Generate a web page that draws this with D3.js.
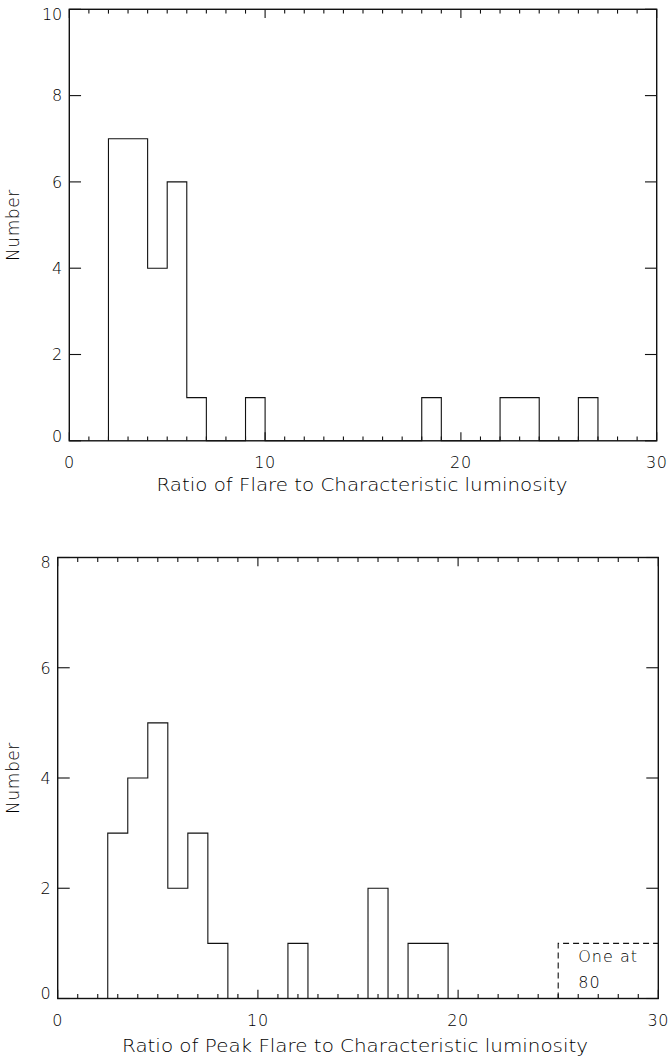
<!DOCTYPE html>
<html>
<head>
<meta charset="utf-8">
<script src="https://cdn.jsdelivr.net/npm/d3@7"></script>
<style>
  html, body { margin: 0; padding: 0; background: #fff; }
  svg { display: block; }
  text { font-family: "DejaVu Sans", sans-serif; font-weight: 200; fill: #000; }
</style>
</head>
<body>
<script>
// ---------- data ----------
const binWidth = 1;
// top panel: ratio of flare to characteristic luminosity (non-empty bins)
const topBinStarts = [2, 3, 4, 5, 6, 9, 18, 22, 23, 26];
const topCounts    = [7, 7, 4, 6, 1, 1, 1, 1, 1, 1];
// bottom panel: ratio of peak flare to characteristic luminosity (non-empty bins)
const botBinStarts = [2.5, 3.5, 4.5, 5.5, 6.5, 7.5, 11.5, 15.5, 17.5, 18.5];
const botCounts    = [3, 4, 5, 2, 3, 1, 1, 2, 1, 1];
// off-scale outlier marker (bottom panel)
const outlierRange = [25, 30];
const outlierCount = 1;
const outlierText  = ["One at", "80"];

const xDomain = [0, 30];
const xMajorTicks = [0, 10, 20, 30];
const xMinorTicks = d3.range(0, 31, 1);
const topYTicks = [0, 2, 4, 6, 8, 10];
const botYTicks = [0, 2, 4, 6, 8];
const topXTitle = "Ratio of Flare to Characteristic luminosity";
const botXTitle = "Ratio of Peak Flare to Characteristic luminosity";
const yTitle = "Number";

// ---------- drawing ----------
const W = 668, H = 1057;
const svg = d3.select("body").append("svg").attr("width", W).attr("height", H);

function panel(cfg) {
  const x = d3.scaleLinear().domain(xDomain).range([cfg.left, cfg.right]);
  const y = d3.scaleLinear().domain([0, cfg.yMax]).range([cfg.bottom, cfg.top]);
  const g = svg.append("g");
  const ph = cfg.bottom - cfg.top, pw = cfg.right - cfg.left;
  const xMajLen = 0.02 * ph, xMinLen = 0.01 * ph, yMajLen = 0.02 * pw;

  // histogram outline (step style): walk the bins in order, dropping to 0 across gaps
  const pts = [];
  const first = cfg.starts[0];
  pts.push([x(first), y(0)]);
  cfg.starts.forEach((s, i) => {
    const c = cfg.counts[i];
    if (i > 0) {
      const prevEnd = cfg.starts[i - 1] + binWidth;
      if (s - prevEnd > 1e-9) { pts.push([x(prevEnd), y(0)]); pts.push([x(s), y(0)]); }
    }
    pts.push([x(s), y(c)]);
    pts.push([x(s + binWidth), y(c)]);
  });
  pts.push([x(cfg.starts[cfg.starts.length - 1] + binWidth), y(0)]);
  g.append("path").attr("d", d3.line()(pts))
    .attr("fill", "none").attr("stroke", "#111").attr("stroke-width", 1.1);

  // x ticks (bottom and top, pointing inward)
  const xt = g.append("g").attr("stroke", "#111").attr("stroke-width", 1.1);
  xMinorTicks.forEach(v => {
    const len = xMajorTicks.includes(v) ? xMajLen : xMinLen;
    xt.append("line").attr("x1", x(v)).attr("x2", x(v)).attr("y1", y(0)).attr("y2", y(0) - len);
    xt.append("line").attr("x1", x(v)).attr("x2", x(v)).attr("y1", cfg.top).attr("y2", cfg.top + len);
  });
  // y ticks (left and right, pointing inward)
  cfg.yTicks.forEach(v => {
    xt.append("line").attr("x1", cfg.left).attr("x2", cfg.left + yMajLen).attr("y1", y(v)).attr("y2", y(v));
    xt.append("line").attr("x1", cfg.right).attr("x2", cfg.right - yMajLen).attr("y1", y(v)).attr("y2", y(v));
  });
  // frame
  g.append("rect").attr("x", cfg.left).attr("y", cfg.top).attr("width", pw).attr("height", ph)
    .attr("fill", "none").attr("stroke", "#111").attr("stroke-width", 1.4);

  // tick labels
  g.selectAll("text.xl").data(xMajorTicks).enter().append("text")
    .attr("class", "xl").attr("x", d => x(d)).attr("y", cfg.bottom + 27.5)
    .attr("text-anchor", "middle").attr("font-size", 16).attr("letter-spacing", 0.6).text(d => d);
  g.selectAll("text.yl").data(cfg.yTicks).enter().append("text")
    .attr("class", "yl").attr("x", cfg.left - 7)
    .attr("y", d => Math.max(cfg.top + 5, Math.min(cfg.bottom - 5, y(d))))
    .attr("dy", "0.36em").attr("text-anchor", "end").attr("font-size", 16).text(d => d);

  // titles
  g.append("text").attr("x", cfg.titleX).attr("y", cfg.bottom + cfg.titleDy)
    .attr("text-anchor", "middle").attr("font-size", 17)
    .attr("textLength", cfg.titleLen).attr("lengthAdjust", "spacingAndGlyphs")
    .text(cfg.title);
  g.append("text")
    .attr("transform", `translate(19,${(cfg.top + cfg.bottom) / 2}) rotate(-90)`)
    .attr("text-anchor", "middle").attr("font-size", 17).attr("letter-spacing", 0.6).text(yTitle);

  return { x, y, g };
}

panel({
  left: 69.3, right: 656.7, top: 9.3, bottom: 440.8, yMax: 10,
  starts: topBinStarts, counts: topCounts, yTicks: topYTicks,
  title: topXTitle, titleX: 362, titleDy: 50.5, titleLen: 411
});

const p2 = panel({
  left: 57.7, right: 658.3, top: 557.5, bottom: 998.5, yMax: 8,
  starts: botBinStarts, counts: botCounts, yTicks: botYTicks,
  title: botXTitle, titleX: 355, titleDy: 53, titleLen: 466
});

// outlier marker: dashed box open at the bottom
p2.g.append("path")
  .attr("d", d3.line()([[p2.x(outlierRange[0]), p2.y(0)], [p2.x(outlierRange[0]), p2.y(outlierCount)],
                        [p2.x(outlierRange[1]), p2.y(outlierCount)]]))
  .attr("fill", "none").attr("stroke", "#111").attr("stroke-width", 1.1)
  .attr("stroke-dasharray", "6,4");
p2.g.selectAll("text.note").data(outlierText).enter().append("text")
  .attr("class", "note")
  .attr("x", p2.x(26))
  .attr("y", (d, i) => p2.y(outlierCount * (i === 0 ? 0.67 : 0.19)))
  .attr("font-size", 16).attr("letter-spacing", 1).text(d => d);
</script>
</body>
</html>
